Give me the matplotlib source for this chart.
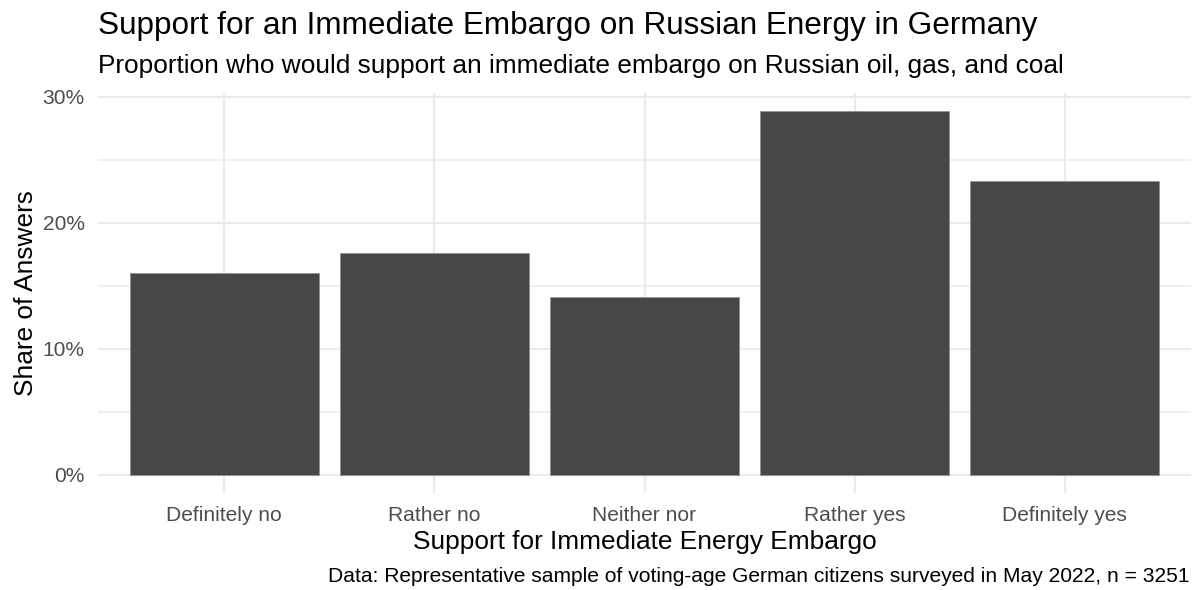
import matplotlib
matplotlib.use("Agg")
import matplotlib.pyplot as plt
from matplotlib.ticker import FixedLocator

# ---- data ----
categories = ["Definitely no", "Rather no", "Neither nor", "Rather yes", "Definitely yes"]
shares = [16.0, 17.6, 14.1, 28.9, 23.3]
y_ticks = [0, 10, 20, 30]
y_tick_labels = ["0%", "10%", "20%", "30%"]
y_minor = [5, 15, 25]

title = "Support for an Immediate Embargo on Russian Energy in Germany"
subtitle = "Proportion who would support an immediate embargo on Russian oil, gas, and coal"
x_title = "Support for Immediate Energy Embargo"
y_title = "Share of Answers"
caption = "Data: Representative sample of voting-age German citizens surveyed in May 2022, n = 3251"

plt.rcParams["font.family"] = ["Liberation Sans", "DejaVu Sans"]

W, H, DPI = 1196, 590, 100
fig = plt.figure(figsize=(W / DPI, H / DPI), dpi=DPI, facecolor="white")

BASE = 18.9  # pt

# panel in pixel coordinates
pl, pr, pt, pb = 98.0, 1191.0, 92.6, 493.0
ax = fig.add_axes([pl / W, 1 - pb / H, (pr - pl) / W, (pb - pt) / H])

x = list(range(len(categories)))
ax.bar(x, shares, width=0.9, color="#474747", edgecolor="#8f8f8f", linewidth=0.5, zorder=2)

ax.set_xlim(-0.6, len(categories) - 0.4)
ymax = max(shares)
ax.set_ylim(-0.05 * ymax, ymax * 1.05)

ax.set_xticks(x)
ax.set_xticklabels(categories)
ax.yaxis.set_major_locator(FixedLocator(y_ticks))
ax.set_yticklabels(y_tick_labels)
ax.yaxis.set_minor_locator(FixedLocator(y_minor))

ax.set_axisbelow(True)
ax.grid(which="major", axis="both", color="#EBEBEB", linewidth=1.6, zorder=0)
ax.grid(which="minor", axis="y", color="#EBEBEB", linewidth=1.1, zorder=0)
for s in ax.spines.values():
    s.set_visible(False)

ax.tick_params(axis="both", which="both", length=0)
ax.tick_params(axis="y", labelsize=BASE * 0.8, labelcolor="#4D4D4D", pad=9.7)
ax.tick_params(axis="x", labelsize=BASE * 0.8, labelcolor="#4D4D4D", pad=9.5)

ph = pb - pt
pw = pr - pl
ax.set_xlabel(x_title, fontsize=BASE, color="black", va="baseline")
ax.xaxis.set_label_coords(0.5, (pb - 549.5) / ph)
ax.set_ylabel(y_title, fontsize=BASE, color="black", va="baseline", ha="center",
              rotation=90, rotation_mode="anchor")
ax.yaxis.set_label_coords((33 - pl) / pw, 0.5)

fig.text(pl / W, 1 - 34 / H, title, fontsize=BASE * 1.2, ha="left", va="baseline", color="black")
fig.text(pl / W, 1 - 72.5 / H, subtitle, fontsize=BASE, ha="left", va="baseline", color="black")
fig.text(1190 / W, 1 - 582.5 / H, caption, fontsize=BASE * 0.8, ha="right", va="baseline", color="black")

fig.savefig("out.png", dpi=DPI, facecolor="white")
